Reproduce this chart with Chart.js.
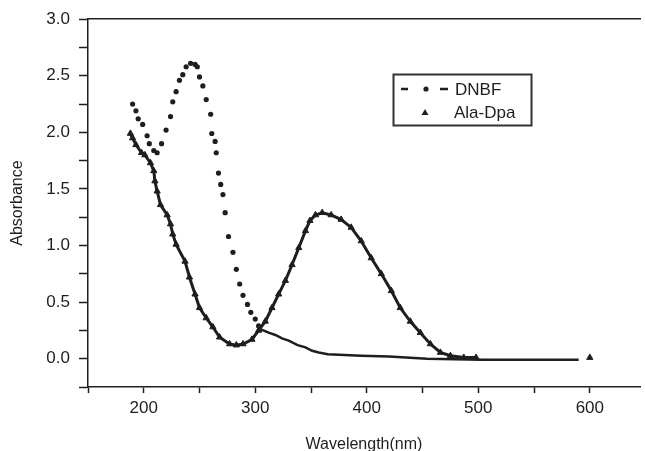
<!DOCTYPE html>
<html>
<head>
<meta charset="utf-8">
<script src="https://cdn.jsdelivr.net/npm/chart.js@4.4.1/dist/chart.umd.min.js"></script>
<style>
  html, body { margin: 0; padding: 0; overflow: hidden; background: #fff; }
  canvas { display: block; }
</style>
</head>
<body>
<canvas id="spectrum" width="645" height="458"></canvas>
<script>
// DNBF spectrum
const dnbfWavelength = [
    190, 193, 195, 199, 203, 205, 209, 212, 216, 220,
    224, 226, 229, 232, 235, 238, 242, 246, 248, 250,
    253, 256, 260, 261, 264, 265, 267, 269, 271, 273,
    276, 280, 283, 286, 289, 293, 296, 300, 303, 305,
    312, 318, 324, 330, 338, 345, 351, 357, 365, 375,
    395, 420, 454, 503, 545, 590
];
const dnbfAbsorbance = [
    2.25, 2.19, 2.12, 2.07, 1.97, 1.90, 1.84, 1.82, 1.90, 2.02,
    2.14, 2.27, 2.36, 2.46, 2.51, 2.58, 2.61, 2.60, 2.58, 2.49,
    2.41, 2.29, 2.16, 1.99, 1.92, 1.82, 1.64, 1.54, 1.45, 1.29,
    1.08, 0.94, 0.79, 0.66, 0.56, 0.48, 0.41, 0.35, 0.29, 0.26,
    0.23, 0.21, 0.18, 0.16, 0.12, 0.10, 0.07, 0.055, 0.04, 0.035,
    0.026, 0.02, 0.0, -0.01, -0.01, -0.01
];

// Ala-Dpa spectrum
const alaWavelength = [
    188, 190, 193, 198, 201, 206, 209, 210, 212, 215,
    221, 224, 226, 229, 237, 241, 246, 250, 256, 262,
    268, 277, 283, 289, 297, 303, 309, 315, 321, 327,
    333, 339, 345, 349, 354, 360, 368, 377, 386, 395,
    404, 413, 422, 430, 439, 448, 457, 466, 475, 487,
    498, 600
];
const alaAbsorbance = [
    1.99, 1.95, 1.89, 1.82, 1.80, 1.73, 1.66, 1.57, 1.48, 1.36,
    1.27, 1.19, 1.10, 1.01, 0.86, 0.72, 0.57, 0.45, 0.36, 0.28,
    0.19, 0.13, 0.12, 0.13, 0.17, 0.25, 0.33, 0.45, 0.57, 0.69,
    0.83, 0.98, 1.13, 1.22, 1.27, 1.29, 1.27, 1.23, 1.16, 1.04,
    0.89, 0.75, 0.60, 0.45, 0.33, 0.23, 0.13, 0.055, 0.026, 0.01,
    0.01, 0.01
];

const seriesNames = ['DNBF', 'Ala-Dpa'];
const xTickValues = [150, 200, 250, 300, 350, 400, 450, 500, 550, 600];
const yTickValues = [-0.25, 0, 0.25, 0.5, 0.75, 1.0, 1.25, 1.5, 1.75, 2.0, 2.25, 2.5, 2.75, 3.0];

const INK = '#1e1e1e';
const FONT = '"Liberation Sans", Arial, sans-serif';

const toPoints = (xs, ys) => xs.map((x, i) => ({ x: x, y: ys[i] }));

// Legend drawn inside the plot, like the original
const insideLegend = {
    id: 'insideLegend',
    afterDraw(chart) {
        const ctx = chart.ctx;
        ctx.save();
        ctx.strokeStyle = '#333';
        ctx.lineWidth = 2;
        ctx.strokeRect(393.5, 74.5, 138, 51);

        // DNBF: dash - dot - dash
        ctx.strokeStyle = INK;
        ctx.lineWidth = 2.5;
        ctx.beginPath();
        ctx.moveTo(401, 89); ctx.lineTo(408, 89);
        ctx.moveTo(440, 89); ctx.lineTo(448, 89);
        ctx.stroke();
        ctx.fillStyle = INK;
        ctx.beginPath();
        ctx.arc(426, 89, 2.6, 0, Math.PI * 2);
        ctx.fill();

        // Ala-Dpa: triangle
        ctx.beginPath();
        ctx.moveTo(425, 109);
        ctx.lineTo(428.5, 115);
        ctx.lineTo(421.5, 115);
        ctx.closePath();
        ctx.fill();

        ctx.font = '17px ' + FONT;
        ctx.textBaseline = 'middle';
        ctx.fillText(seriesNames[0], 455, 90);
        ctx.fillText(seriesNames[1], 454, 113);
        ctx.restore();
    }
};

new Chart(document.getElementById('spectrum').getContext('2d'), {
    type: 'scatter',
    data: {
        datasets: [
            {
                label: seriesNames[0],
                data: toPoints(dnbfWavelength, dnbfAbsorbance),
                showLine: true,
                borderWidth: 2.5,
                borderColor: INK,
                backgroundColor: INK,
                pointStyle: 'circle',
                pointRadius: ctx => (ctx.raw && ctx.raw.x < 305 ? 2.6 : 0),
                pointBorderWidth: 0,
                segment: {
                    // dotted part: markers only, tail: solid line
                    borderColor: ctx => (ctx.p0.parsed.x < 304 ? 'rgba(0,0,0,0)' : INK)
                }
            },
            {
                label: seriesNames[1],
                data: toPoints(alaWavelength, alaAbsorbance),
                showLine: true,
                borderWidth: 3,
                borderColor: INK,
                backgroundColor: INK,
                pointStyle: 'triangle',
                pointRadius: 3.6,
                pointBorderWidth: 1,
                segment: {
                    borderColor: ctx => (ctx.p1.parsed.x - ctx.p0.parsed.x > 50 ? 'rgba(0,0,0,0)' : INK)
                }
            }
        ]
    },
    options: {
        responsive: false,
        animation: false,
        layout: { padding: { top: 17, right: 0, bottom: 0, left: 0 } },
        plugins: {
            legend: { display: false },
            tooltip: { enabled: false }
        },
        scales: {
            x: {
                type: 'linear',
                position: 'bottom',
                min: 150,
                max: 645,
                afterBuildTicks: s => { s.ticks = xTickValues.map(v => ({ value: v })); },
                afterFit: s => { s.height = 71; },
                grid: {
                    drawOnChartArea: false,
                    drawTicks: true,
                    tickLength: 6,
                    tickColor: INK,
                    tickWidth: 1.5
                },
                border: { display: true, color: INK, width: 1.5 },
                ticks: {
                    color: INK,
                    font: { family: FONT, size: 17 },
                    padding: 5,
                    maxRotation: 0,
                    autoSkip: false,
                    callback: v => (v % 100 === 0 ? String(v) : '')
                },
                title: {
                    display: true,
                    text: 'Wavelength(nm)',
                    color: INK,
                    font: { family: FONT, size: 16 },
                    padding: { top: 0, bottom: 4 }
                }
            },
            xTop: {
                type: 'linear',
                position: 'top',
                min: 150,
                max: 645,
                afterFit: s => { s.height = 0; },
                grid: { display: false, drawTicks: false },
                border: { display: true, color: INK, width: 1.5 },
                ticks: { display: false }
            },
            y: {
                type: 'linear',
                min: -0.25,
                max: 3.0,
                afterBuildTicks: s => { s.ticks = yTickValues.map(v => ({ value: v })); },
                afterFit: s => { s.width = 88; },
                grid: {
                    drawOnChartArea: false,
                    drawTicks: true,
                    tickLength: 9,
                    tickColor: INK,
                    tickWidth: 1.5
                },
                border: { display: true, color: INK, width: 1.5 },
                ticks: {
                    color: INK,
                    font: { family: FONT, size: 17 },
                    padding: 9,
                    autoSkip: false,
                    callback: v => (Math.abs(v * 2 - Math.round(v * 2)) < 1e-6 ? v.toFixed(1) : '')
                },
                title: {
                    display: true,
                    text: 'Absorbance',
                    color: INK,
                    font: { family: FONT, size: 16 },
                    padding: { top: 8, bottom: 0 }
                }
            }
        }
    },
    plugins: [insideLegend]
});
</script>
</body>
</html>
